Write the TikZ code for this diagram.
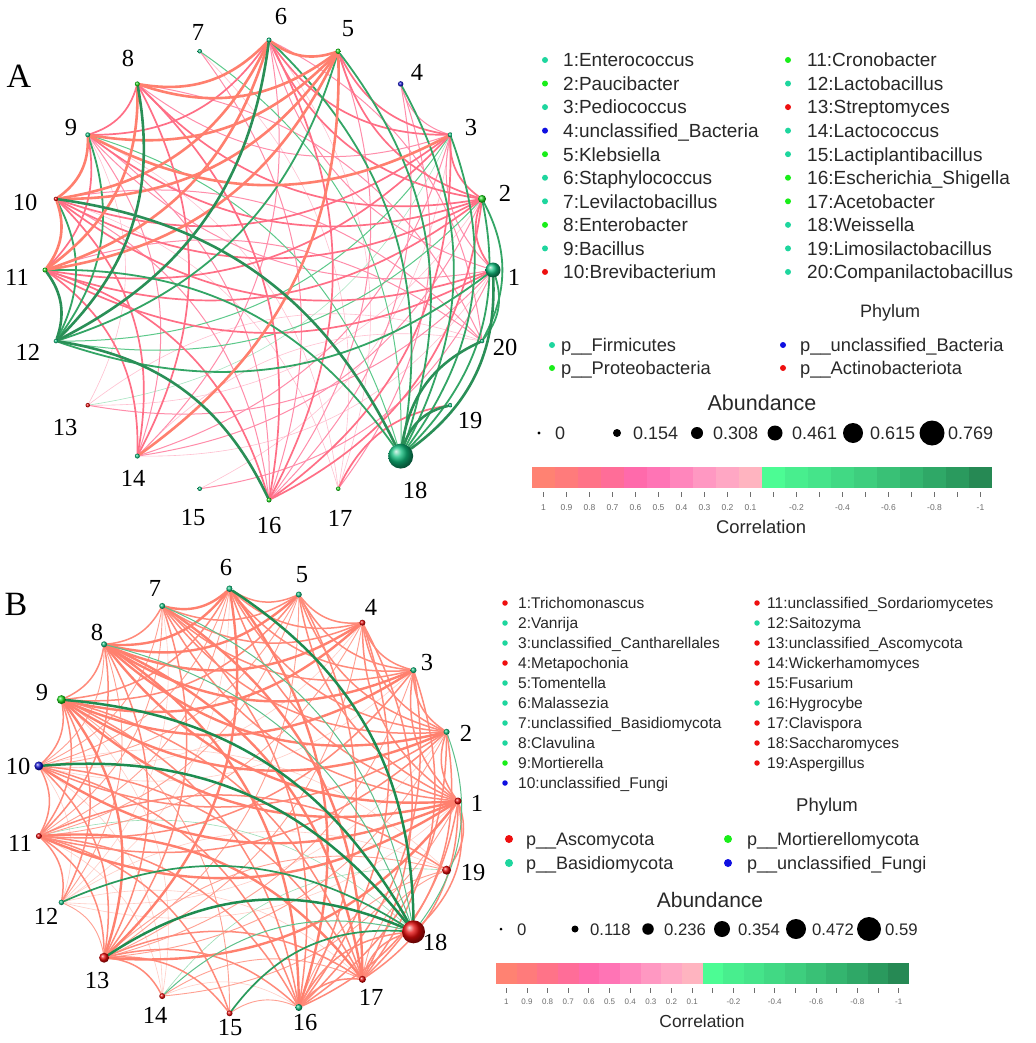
\documentclass[tikz,border=0pt]{standalone}
\usepackage{fontspec}
\setmainfont{Liberation Serif}
\newfontfamily\lsans{Liberation Sans}
\pgfdeclarelayer{bg}
\pgfdeclarelayer{edges}
\pgfsetlayers{bg,edges,main}
\definecolor{cteal}{RGB}{30,214,158}
\definecolor{cgreen}{RGB}{25,238,25}
\definecolor{cblue}{RGB}{15,15,225}
\definecolor{cred}{RGB}{238,15,15}
\definecolor{bteal}{RGB}{15,190,125}
\definecolor{bgreen}{RGB}{30,215,30}
\definecolor{bblue}{RGB}{20,20,210}
\definecolor{bred}{RGB}{230,10,10}
\definecolor{txt}{RGB}{40,40,40}
\definecolor{tkc}{RGB}{110,110,110}
\definecolor{eps}{RGB}{255,127,110}
\definecolor{epm}{RGB}{255,111,134}
\definecolor{epw}{RGB}{255,141,170}
\definecolor{epv}{RGB}{255,192,208}
\definecolor{ens}{RGB}{42,143,87}
\definecolor{enm}{RGB}{51,165,101}
\definecolor{enw}{RGB}{92,201,138}
\definecolor{env}{RGB}{168,230,194}
\definecolor{fbs}{RGB}{255,128,110}
\definecolor{fbm}{RGB}{255,138,122}
\definecolor{fbw}{RGB}{255,160,146}
\definecolor{fbv}{RGB}{255,205,198}
\definecolor{fgs}{RGB}{30,140,80}
\definecolor{fgm}{RGB}{42,154,92}
\definecolor{fgw}{RGB}{92,192,138}
\definecolor{fgv}{RGB}{154,221,181}
\definecolor{c1}{HTML}{FF8272}
\definecolor{c2}{HTML}{FF7B7B}
\definecolor{c3}{HTML}{FF7388}
\definecolor{c4}{HTML}{FF6D98}
\definecolor{c5}{HTML}{FF6AAB}
\definecolor{c6}{HTML}{FF74B5}
\definecolor{c7}{HTML}{FF86BC}
\definecolor{c8}{HTML}{FF98C2}
\definecolor{c9}{HTML}{FFA7C4}
\definecolor{c10}{HTML}{FFB4C0}
\definecolor{c11}{HTML}{4CFC94}
\definecolor{c12}{HTML}{48EE8E}
\definecolor{c13}{HTML}{45E48A}
\definecolor{c14}{HTML}{41D984}
\definecolor{c15}{HTML}{3ECE7E}
\definecolor{c16}{HTML}{39C176}
\definecolor{c17}{HTML}{34B56F}
\definecolor{c18}{HTML}{2FA867}
\definecolor{c19}{HTML}{2A9A5E}
\definecolor{c20}{HTML}{268954}
\tikzset{
  sph/.style={circle, inner sep=0pt, minimum size=#1, shading=ball},
  nlab/.style={font=\fontsize{24.5}{24.5}\selectfont, inner sep=0pt},
  plab/.style={font=\fontsize{34}{34}\selectfont, inner sep=0pt},
  ldot/.style={circle, inner sep=0pt, minimum size=#1, draw=none},
  ltA/.style={font=\lsans\fontsize{19}{19}\selectfont, text=txt, anchor=west, inner sep=0pt, text height=13.7pt, text depth=0pt},
  ltB/.style={font=\lsans\fontsize{15.5}{15.5}\selectfont, text=txt, anchor=west, inner sep=0pt, text height=11.2pt, text depth=0pt},
  lpA/.style={font=\lsans\fontsize{18.3}{18.3}\selectfont, text=txt, anchor=west, inner sep=0pt, text height=13.2pt, text depth=0pt},
  lpB/.style={font=\lsans\fontsize{18}{18}\selectfont, text=txt, anchor=west, inner sep=0pt, text height=13pt, text depth=0pt},
  ttl/.style={font=\lsans\fontsize{#1}{#1}\selectfont, text=txt, inner sep=0pt},
  tkl/.style={font=\lsans\fontsize{8.5}{8.5}\selectfont, text=tkc, inner sep=0pt},
  tick/.style={draw=tkc, line width=0.9pt},
  ee/.style={line cap=round},
  bnd/.style={bend left=28},
  ps/.style={ee, draw=eps, line width=2.6pt},
  pm/.style={ee, draw=epm, line width=1.7pt},
  pw/.style={ee, draw=epw, line width=1.0pt},
  pv/.style={ee, draw=epv, line width=0.6pt},
  ns/.style={ee, draw=ens, line width=2.6pt},
  nm/.style={ee, draw=enm, line width=1.8pt},
  nw/.style={ee, draw=enw, line width=1.0pt},
  nv/.style={ee, draw=env, line width=0.6pt},
  bs/.style={ee, draw=fbs, line width=2.4pt},
  bm/.style={ee, draw=fbm, line width=1.5pt},
  bw/.style={ee, draw=fbw, line width=0.9pt},
  bv/.style={ee, draw=fbv, line width=0.6pt},
  gs/.style={ee, draw=fgs, line width=2.5pt},
  gm/.style={ee, draw=fgm, line width=1.7pt},
  gw/.style={ee, draw=fgw, line width=1.0pt},
  gv/.style={ee, draw=fgv, line width=0.6pt},
}
\begin{document}
\begin{tikzpicture}[x=1pt,y=-1pt]
\useasboundingbox (0,0) rectangle (1035,1043);
\begin{pgfonlayer}{bg}
\fill[white] (0,0) rectangle (1035,1043);
\end{pgfonlayer}

% ===================== Network A =====================
\foreach \k/\c/\s in {1/bteal/15,2/bgreen/8,3/bteal/5,4/bblue/5.5,5/bgreen/5.5,6/bteal/5,7/bteal/4.5,8/bgreen/5,9/bteal/5,10/bred/4.5,11/bgreen/5,12/bteal/4.5,13/bred/4.5,14/bteal/5,15/bteal/4.5,16/bgreen/5,17/bgreen/4.5,18/bteal/25,19/bteal/4.5,20/bteal/4.5}
  \node[sph=\s pt, ball color=\c] (a\k) at ({269+224*cos((\k-1)*18)},{270-230*sin((\k-1)*18)}) {};

\begin{pgfonlayer}{edges}
\foreach \p/\q in {13/20,14/20,1/14,9/13,6/17,7/17,9/17,3/15,10/17,2/13}
  \draw[pv] (a\p) to[bnd] (a\q);
\foreach \p/\q in {3/13}
  \draw[nv] (a\p) to[bnd] (a\q);
\foreach \p/\q in {1/6,6/14,3/8,8/20,1/9,9/16,10/20,11/20,4/16,4/17,1/13,3/14,2/14,1/15,7/16,1/3,9/14,10/16,6/20,5/16,3/4}
  \draw[pw] (a\p) to[bnd] (a\q);
\foreach \p/\q in {7/18,9/18,3/12,2/12}
  \draw[nw] (a\p) to[bnd] (a\q);
\foreach \p/\q in {6/9,3/6,2/6,3/5,2/5,8/9,8/16,2/8,2/9,2/10,3/10,1/10,2/11,3/11,11/14,11/16,10/14,2/16,3/16,1/2,17/19,6/16,9/11,2/3,8/14,1/11}
  \draw[pm] (a\p) to[bnd] (a\q);
\foreach \p/\q in {5/12,9/12,10/12,5/18,6/18,3/18,2/18,4/18,11/18,1/12,1/20,2/20}
  \draw[nm] (a\p) to[bnd] (a\q);
\foreach \p/\q in {5/6,6/8,5/8,5/9,5/10,5/11,5/14,6/10,6/11,8/11,9/10,10/11,3/9}
  \draw[ps] (a\p) to[bnd] (a\q);
\foreach \p/\q in {1/18,18/20,18/19,12/16,8/12,6/12,11/12,10/18}
  \draw[ns] (a\p) to[bnd] (a\q);
\end{pgfonlayer}

\foreach \k/\x/\y in {1/514/277,2/505/193,3/471/128,4/417/72,5/348/29,6/281/17,7/198/32,8/128/58,9/71/128,10/25/202,11/17/277,12/28/352,13/65/428,14/133/478,15/193/518,16/269/526,17/340/518,18/415/490,19/470/421,20/505/347}
  \node[nlab] (ta\k) at (\x,\y) {\k};
\node[plab] (labA) at (19,76) {A};

% legend A: taxa
\foreach \i/\c/\lab in {0/cteal/{1:Enterococcus},1/cgreen/{2:Paucibacter},2/cteal/{3:Pediococcus},3/cblue/{4:unclassified\_Bacteria},4/cgreen/{5:Klebsiella},5/cteal/{6:Staphylococcus},6/cteal/{7:Levilactobacillus},7/cgreen/{8:Enterobacter},8/cteal/{9:Bacillus},9/cred/{10:Brevibacterium}}{
  \node[ldot=6pt, fill=\c] (dAl\i) at (545,{60+23.55*\i}) {};
  \node[ltA] (tAl\i) at (563,{60+23.55*\i}) {\lab};
}
\foreach \i/\c/\lab in {0/cgreen/{11:Cronobacter},1/cteal/{12:Lactobacillus},2/cred/{13:Streptomyces},3/cteal/{14:Lactococcus},4/cteal/{15:Lactiplantibacillus},5/cgreen/{16:Escherichia\_Shigella},6/cgreen/{17:Acetobacter},7/cteal/{18:Weissella},8/cteal/{19:Limosilactobacillus},9/cteal/{20:Companilactobacillus}}{
  \node[ldot=6pt, fill=\c] (dAr\i) at (788,{60+23.55*\i}) {};
  \node[ltA] (tAr\i) at (807,{60+23.55*\i}) {\lab};
}
% legend A: phylum
\node[ttl=18] (phA) at (890,313) {Phylum};
\node[ldot=6pt, fill=cteal] (pAd1) at (552,345) {};
\node[lpA] (pAt1) at (561,345) {p\_\_Firmicutes};
\node[ldot=6pt, fill=cgreen] (pAd2) at (552,368) {};
\node[lpA] (pAt2) at (561,368) {p\_\_Proteobacteria};
\node[ldot=6pt, fill=cblue] (pAd3) at (783,345) {};
\node[lpA] (pAt3) at (800,345) {p\_\_unclassified\_Bacteria};
\node[ldot=6pt, fill=cred] (pAd4) at (783,368) {};
\node[lpA] (pAt4) at (800,368) {p\_\_Actinobacteriota};
% legend A: abundance
\node[ttl=21.5] (abA) at (762,403) {Abundance};
\foreach \i/\x/\d/\tx/\lab in {0/539/3.3/555/0,1/617/8/633/0.154,2/697/12/713/0.308,3/775/15/792/0.461,4/853/20/870/0.615,5/932/25/948/0.769}{
  \node[ldot=\d pt, fill=black] (aAd\i) at (\x,433) {};
  \node[lpA, font=\lsans\fontsize{18}{18}\selectfont] (aAt\i) at (\tx,433) {\lab};
}
% legend A: colour bar
\foreach \i in {1,...,20}
  \fill[c\i] ({532+23*(\i-1)},467) rectangle ({532+23*\i},488);
\foreach \i in {1,...,20}
  \draw[tick] ({532+23*(\i-0.5)},492) -- ({532+23*(\i-0.5)},497);
\foreach \i/\lab in {1/1,2/0.9,3/0.8,4/0.7,5/0.6,6/0.5,7/0.4,8/0.3,9/0.2,10/0.1,12/-0.2,14/-0.4,16/-0.6,18/-0.8,20/-1}
  \node[tkl] (kA\i) at ({532+23*(\i-0.5)},508) {\lab};
\node[ttl=18.4] (coA) at (761,527) {Correlation};

% ===================== Network B =====================
\foreach \k/\c/\s in {1/bred/7,2/bteal/6,3/bteal/6,4/bred/6,5/bteal/6,6/bteal/6.5,7/bteal/6,8/bteal/6,9/bgreen/9,10/bblue/9,11/bred/6,12/bteal/5.5,13/bred/10,14/bred/6,15/bred/6,16/bteal/7,17/bred/7,18/bred/23,19/bred/9}
  \node[sph=\s pt, ball color=\c] (b\k) at ({247+211*cos((\k-1)*360/19)},{801-213*sin((\k-1)*360/19)}) {};

\begin{pgfonlayer}{edges}
\foreach \p/\q in {10/12,10/19,12/19,12/17,11/14,14/16,3/10,4/10,2/12,1/12,6/12,7/12,10/14,9/14}
  \draw[bv] (b\p) to[bnd] (b\q);
\foreach \p/\q in {11/18,14/19}
  \draw[gv] (b\p) to[bnd] (b\q);
\foreach \p/\q in {5/13,4/13,3/13,2/13,5/11,4/11,6/11,6/10,7/10,8/10,8/12,9/15,1/14,16/19,13/19,17/19,12/13,7/11,5/10,14/17,15/16}
  \draw[bw] (b\p) to[bnd] (b\q);
\foreach \p/\q in {5/6,4/5,3/4,2/3,1/2,7/8,8/9,6/9,5/7,4/7,3/7,2/7,1/7,4/6,3/6,2/6,1/6,3/5,2/5,1/5,2/4,1/4,1/3,9/10,10/11,9/11,9/16,9/17,10/13,11/13,8/13,7/13,7/16,5/16,4/16,3/16,2/16,1/16,4/17,3/17,2/17,16/17,13/17,13/16,11/16,10/16,10/17,2/11,2/10,3/11,8/11,9/12,11/12,13/15,11/15,13/14,17/18,1/17,1/19,11/19,1/18,16/18,5/9}
  \draw[bm] (b\p) to[bnd] (b\q);
\foreach \p/\q in {6/7,6/8,5/8,4/8,3/8,2/9,1/9,1/10,1/11,8/17,7/17,6/13,9/13,3/9,4/9,2/8,1/8,6/16,11/17,1/13,8/16}
  \draw[bs] (b\p) to[bnd] (b\q);
\foreach \p/\q in {7/18,8/18,14/18,2/18}
  \draw[gw] (b\p) to[bnd] (b\q);
\foreach \p/\q in {12/18,15/18}
  \draw[gm] (b\p) to[bnd] (b\q);
\foreach \p/\q in {6/18,9/18,10/18,13/18}
  \draw[gs] (b\p) to[bnd] (b\q);
\end{pgfonlayer}

\foreach \k/\x/\y in {1/477/803,2/466/733,3/427/663,4/371/607,5/302/575,6/226/568,7/155/588,8/97/632,9/42/693,10/18/766,11/20/843,12/46/916,13/97/980,14/155/1015,15/230/1028,16/305/1022,17/371/997,18/435/942,19/473/872}
  \node[nlab] (tb\k) at (\x,\y) {\k};
\node[plab] (labB) at (16,604) {B};

% legend B: taxa
\foreach \i/\c/\lab in {0/cred/{1:Trichomonascus},1/cteal/{2:Vanrija},2/cteal/{3:unclassified\_Cantharellales},3/cred/{4:Metapochonia},4/cteal/{5:Tomentella},5/cteal/{6:Malassezia},6/cteal/{7:unclassified\_Basidiomycota},7/cteal/{8:Clavulina},8/cgreen/{9:Mortierella},9/cblue/{10:unclassified\_Fungi}}{
  \node[ldot=5.5pt, fill=\c] (dBl\i) at (505,{603+20*\i}) {};
  \node[ltB] (tBl\i) at (518,{603+20*\i}) {\lab};
}
\foreach \i/\c/\lab in {0/cred/{11:unclassified\_Sordariomycetes},1/cteal/{12:Saitozyma},2/cred/{13:unclassified\_Ascomycota},3/cred/{14:Wickerhamomyces},4/cred/{15:Fusarium},5/cteal/{16:Hygrocybe},6/cred/{17:Clavispora},7/cred/{18:Saccharomyces},8/cred/{19:Aspergillus}}{
  \node[ldot=5.5pt, fill=\c] (dBr\i) at (757,{603+20*\i}) {};
  \node[ltB] (tBr\i) at (767,{603+20*\i}) {\lab};
}
% legend B: phylum
\node[ttl=18.5] (phB) at (827,807) {Phylum};
\node[ldot=8pt, fill=cred] (pBd1) at (509,839) {};
\node[lpB] (pBt1) at (526,839) {p\_\_Ascomycota};
\node[ldot=8pt, fill=cteal] (pBd2) at (509,863) {};
\node[lpB] (pBt2) at (526,863) {p\_\_Basidiomycota};
\node[ldot=8pt, fill=cgreen] (pBd3) at (728,839) {};
\node[lpB] (pBt3) at (747,839) {p\_\_Mortierellomycota};
\node[ldot=8pt, fill=cblue] (pBd4) at (728,863) {};
\node[lpB] (pBt4) at (747,863) {p\_\_unclassified\_Fungi};
% legend B: abundance
\node[ttl=21] (abB) at (710,900) {Abundance};
\foreach \i/\x/\d/\tx/\lab in {0/501/3/517/0,1/575/7/590/0.118,2/648/11.5/664/0.236,3/722/16/738/0.354,4/796/20/812/0.472,5/869/24/885/0.59}{
  \node[ldot=\d pt, fill=black] (aBd\i) at (\x,929) {};
  \node[lpB, font=\lsans\fontsize{16.7}{16.7}\selectfont] (aBt\i) at (\tx,929) {\lab};
}
% legend B: colour bar
\foreach \i in {1,...,20}
  \fill[c\i] ({496+20.65*(\i-1)},963) rectangle ({496+20.65*\i},984);
\foreach \i in {1,...,20}
  \draw[tick] ({496+20.65*(\i-0.5)},988) -- ({496+20.65*(\i-0.5)},993);
\foreach \i/\lab in {1/1,2/0.9,3/0.8,4/0.7,5/0.6,6/0.5,7/0.4,8/0.3,9/0.2,10/0.1,12/-0.2,14/-0.4,16/-0.6,18/-0.8,20/-1}
  \node[tkl, font=\lsans\fontsize{8}{8}\selectfont] (kB\i) at ({496+20.65*(\i-0.5)},1002) {\lab};
\node[ttl=17.4] (coB) at (702,1021) {Correlation};
\end{tikzpicture}
\end{document}
